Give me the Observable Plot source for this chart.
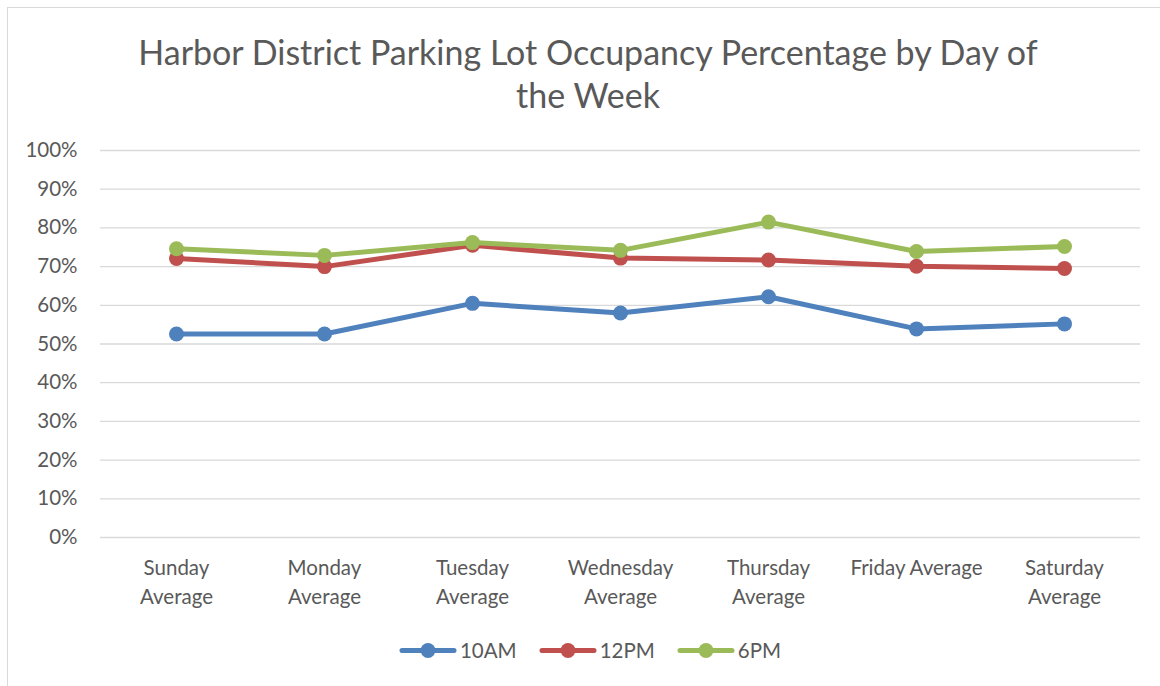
<!DOCTYPE html>
<html>
<head>
<meta charset="utf-8">
<script src="https://cdn.jsdelivr.net/npm/d3@7"></script>
<script src="https://cdn.jsdelivr.net/npm/@observablehq/plot@0.6"></script>
<style>
  html, body { margin: 0; padding: 0; background: #fff; }
  body { width: 1160px; height: 686px; overflow: hidden; position: relative; font-family: Lato, "Open Sans", sans-serif; }
  #frame { position: absolute; left: 7px; top: 7px; width: 1200px; height: 720px; border: 1.5px solid #d9d9d9; box-sizing: border-box; }
  #title { position: absolute; left: 0; width: 1176px; top: 30px; text-align: center; color: #595959; font-size: 34px; line-height: 43px; }
  #chart { position: absolute; left: 0; top: 0; }
  #legend { position: absolute; top: 638px; left: 0; width: 1180px; display: flex; justify-content: center; align-items: center; color: #595959; font-size: 20.5px; }
  .item { display: flex; align-items: center; margin: 0 11px; }
  .item svg { margin-right: 3px; }
</style>
</head>
<body>
<div id="frame"></div>
<div id="title">Harbor District Parking Lot Occupancy Percentage by Day of<br>the Week</div>
<div id="chart"></div>
<div id="legend"></div>
<script>
const days = ["Sunday Average", "Monday Average", "Tuesday Average", "Wednesday Average", "Thursday Average", "Friday Average", "Saturday Average"];
const dayLabels = ["Sunday\nAverage", "Monday\nAverage", "Tuesday\nAverage", "Wednesday\nAverage", "Thursday\nAverage", "Friday Average", "Saturday\nAverage"];
const seriesNames = ["10AM", "12PM", "6PM"];
const seriesColors = ["#4F81BD", "#C0504D", "#9BBB59"];
const values10AM = [52.6, 52.6, 60.5, 58.0, 62.2, 53.9, 55.2];
const values12PM = [72.1, 70.0, 75.5, 72.2, 71.7, 70.1, 69.5];
const values6PM  = [74.6, 72.9, 76.2, 74.2, 81.5, 73.9, 75.2];
const yTicks = [0, 10, 20, 30, 40, 50, 60, 70, 80, 90, 100];

const seriesValues = [values10AM, values12PM, values6PM];
const data = [];
seriesNames.forEach((s, i) => days.forEach((d, j) => data.push({series: s, day: d, value: seriesValues[i][j]})));
const labelOf = new Map(days.map((d, i) => [d, dayLabels[i]]));

const marks = [
  Plot.gridY(yTicks, {stroke: "#d9d9d9", strokeOpacity: 1, strokeWidth: 1.3}),
  Plot.axisY(yTicks, {tickSize: 0, tickPadding: 23, tickFormat: d => d + "%", fontSize: 20.5, fill: "#595959", label: null}),
  Plot.axisX({tickSize: 0, tickPadding: 18, tickFormat: d => labelOf.get(d), fontSize: 20.5, fill: "#595959", lineHeight: 1.37, label: null})
];
seriesNames.forEach(s => {
  const sub = data.filter(d => d.series === s);
  marks.push(Plot.line(sub, {x: "day", y: "value", stroke: "series", strokeWidth: 5, strokeLinejoin: "round"}));
  marks.push(Plot.dot(sub, {x: "day", y: "value", fill: "series", r: 7.5, stroke: "none"}));
});

const chart = Plot.plot({
  width: 1160,
  height: 686,
  marginLeft: 100,
  marginRight: 20,
  marginTop: 150,
  marginBottom: 149,
  style: {fontFamily: "Lato, 'Open Sans', sans-serif", background: "transparent", overflow: "visible"},
  x: {type: "point", domain: days, padding: 0.5},
  y: {domain: [0, 100]},
  color: {domain: seriesNames, range: seriesColors},
  marks
});
document.getElementById("chart").appendChild(chart);

const legend = document.getElementById("legend");
seriesNames.forEach((s, i) => {
  const item = document.createElement("div");
  item.className = "item";
  item.innerHTML = `<svg width="58" height="17"><line x1="3" y1="8.5" x2="55" y2="8.5" stroke="${seriesColors[i]}" stroke-width="5" stroke-linecap="round"/><circle cx="29" cy="8.5" r="7.5" fill="${seriesColors[i]}"/></svg><span>${s}</span>`;
  legend.appendChild(item);
});
</script>
</body>
</html>
